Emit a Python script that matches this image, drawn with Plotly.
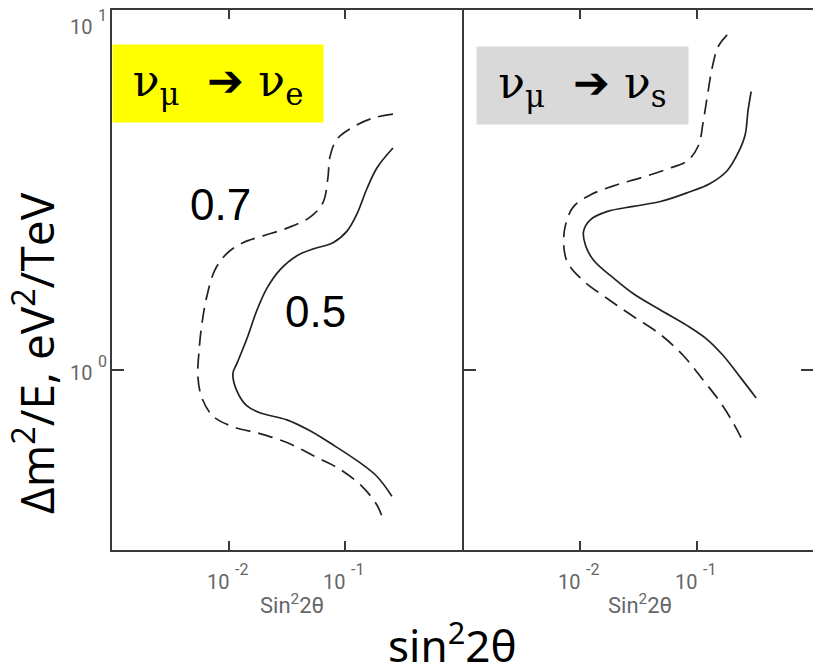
import plotly.graph_objects as go

# ---- data (sin^2 2theta, dm^2/E in eV^2/TeV) ----
left_solid_x = [0.256, 0.187, 0.153, 0.126, 0.103, 0.0783, 0.0528, 0.0385, 0.0275, 0.0213, 0.0175,
                0.01435, 0.01178, 0.01088, 0.01178, 0.01435, 0.01853, 0.0316, 0.0498, 0.0783, 0.1334,
                0.187, 0.2506]
left_solid_y = [4.14, 3.65, 3.19, 2.72, 2.43, 2.26, 2.17, 2.08, 1.90, 1.69, 1.47,
                1.225, 1.045, 0.981, 0.875, 0.796, 0.762, 0.728, 0.679, 0.621, 0.554,
                0.507, 0.447]

left_dash_x = [0.256, 0.172, 0.116, 0.0847, 0.0738, 0.0709, 0.0643, 0.0498, 0.0316, 0.0197, 0.01327,
               0.00967, 0.00763, 0.00652, 0.0059, 0.00556, 0.00545, 0.0059, 0.00733, 0.01088, 0.01853,
               0.0316, 0.0528, 0.0900, 0.1416, 0.187, 0.210]
left_dash_y = [5.14, 5.01, 4.73, 4.38, 3.91, 3.42, 2.92, 2.66, 2.48, 2.36, 2.26,
               2.11, 1.90, 1.61, 1.347, 1.121, 0.957, 0.838, 0.746, 0.697, 0.667,
               0.630, 0.580, 0.531, 0.473, 0.422, 0.386]

right_solid_x = [0.294, 0.2767, 0.2608, 0.227, 0.1828, 0.1306, 0.0830, 0.0488, 0.0286, 0.01714, 0.01225,
                 0.01066, 0.01109, 0.0130, 0.0182, 0.0286, 0.0488, 0.0830, 0.1233, 0.169, 0.2366, 0.3246]
right_solid_y = [5.94, 5.27, 4.50, 4.01, 3.58, 3.30, 3.11, 2.94, 2.85, 2.76, 2.62,
                 2.43, 2.22, 2.02, 1.83, 1.63, 1.47, 1.33, 1.217, 1.099, 0.957, 0.838]

right_dash_x = [0.1828, 0.153, 0.136, 0.1233, 0.114, 0.1033, 0.0830, 0.056, 0.0329, 0.01928, 0.01225,
                0.00877, 0.00748, 0.00720, 0.00778, 0.01066, 0.01714, 0.0286, 0.0488, 0.0767, 0.114,
                0.159, 0.206, 0.246]
right_dash_y = [8.53, 7.91, 6.92, 5.75, 4.91, 4.20, 3.81, 3.62, 3.42, 3.25, 3.07,
                2.85, 2.54, 2.22, 1.99, 1.77, 1.58, 1.41, 1.256, 1.099, 0.938,
                0.817, 0.715, 0.641]

x_tick_vals = [0.01, 0.1]
x_tick_exp = ["-2", "-1"]
y_tick_vals = [1, 10]
y_tick_exp = ["0", "1"]
contour_labels = ["0.7", "0.5"]
panel_labels = ["ν<sub>μ</sub>  ➔ ν<sub>e</sub>", "ν<sub>μ</sub>  ➔ ν<sub>s</sub>"]

W, H = 821, 670
OX, OY = 8, 8  # page body margin offset


def px(x):
    return min(1.0, max(0.0, (x - OX) / W))


def py(y):
    return min(1.0, max(0.0, 1 - (y - OY) / H))


line_col = "#222222"
frame_col = "#3a3a3a"
gray = "#666666"

fig = go.Figure()
solid = dict(color=line_col, width=1.7)
dash = dict(color=line_col, width=1.7, dash="15px,8px")
fig.add_trace(go.Scatter(x=left_solid_x, y=left_solid_y, mode="lines", line=dict(**solid, shape="spline"),
                         xaxis="x", yaxis="y", showlegend=False))
fig.add_trace(go.Scatter(x=left_dash_x, y=left_dash_y, mode="lines", line=dict(**dash, shape="spline"),
                         xaxis="x", yaxis="y", showlegend=False))
fig.add_trace(go.Scatter(x=right_solid_x, y=right_solid_y, mode="lines", line=dict(**solid, shape="spline"),
                         xaxis="x2", yaxis="y2", showlegend=False))
fig.add_trace(go.Scatter(x=right_dash_x, y=right_dash_y, mode="lines", line=dict(**dash, shape="spline"),
                         xaxis="x2", yaxis="y2", showlegend=False))

ydom = [py(550), py(6)]
xcommon = dict(type="log", range=[-3, 0], tickvals=x_tick_vals, ticks="inside", ticklen=9,
               tickwidth=1.5, tickcolor=frame_col, showticklabels=False, showline=True,
               linecolor=frame_col, linewidth=2, mirror="ticks", showgrid=False, zeroline=False)
ycommon = dict(type="log", range=[-0.5, 1], tickvals=y_tick_vals, ticks="inside", ticklen=12,
               tickwidth=1.5, tickcolor=frame_col, showticklabels=False, showline=True,
               linecolor=frame_col, linewidth=2, showgrid=False, zeroline=False, domain=ydom)

fig.update_layout(
    width=W, height=H, autosize=False,
    margin=dict(l=0, r=0, t=0, b=0),
    paper_bgcolor="white", plot_bgcolor="white",
    xaxis=dict(**xcommon, domain=[px(112), px(462)], anchor="y"),
    xaxis2=dict(**xcommon, domain=[px(464), px(813)], anchor="y2"),
    yaxis=dict(**ycommon, anchor="x", mirror=True),
    yaxis2=dict(**ycommon, anchor="x2", mirror="ticks"),
)

ann = []
basefont = dict(family="Roboto", size=20, color=gray)
expfont = dict(family="Roboto", size=16, color=gray)
for xa in ["x", "x2"]:
    for v, e in zip([-2, -1], x_tick_exp):
        ann.append(dict(x=v, xref=xa, y=py(582), yref="paper", text="10", showarrow=False,
                        font=basefont, xshift=2, xanchor="right", yanchor="middle"))
        ann.append(dict(x=v, xref=xa, y=py(569), yref="paper", text=e, showarrow=False,
                        font=expfont, xshift=4, xanchor="left", yanchor="middle"))
    ann.append(dict(x=-1.5, xref=xa, y=py(604), yref="paper",
                    text='Sin<sup>2</sup>2θ',
                    showarrow=False, font=dict(family="Roboto", size=22, color=gray),
                    xshift=5 if xa == "x" else 1, xanchor="center", yanchor="middle"))
for v, e, ys in zip([0, 1], y_tick_exp, [0, -14]):
    ann.append(dict(x=px(94), xref="paper", y=v, yref="y", text="10", showarrow=False,
                    font=basefont, xanchor="right", yanchor="middle", yshift=ys - 3))
    ann.append(dict(x=px(96), xref="paper", y=v, yref="y", text=e, showarrow=False,
                    font=expfont, xanchor="left", yanchor="middle", yshift=ys + 9))

# contour labels
ann.append(dict(x=-2.066, xref="x", y=0.46, yref="y", text=contour_labels[0], showarrow=False,
                xanchor="center", yanchor="middle",
                font=dict(family="Liberation Sans", size=44, color="black")))
ann.append(dict(x=-1.252, xref="x", y=0.1625, yref="y", text=contour_labels[1], showarrow=False,
                xanchor="center", yanchor="middle",
                font=dict(family="Liberation Sans", size=44, color="black")))

# panel labels
ann.append(dict(x=px(218), xref="paper", y=py(81.5), yref="paper", text=panel_labels[0],
                showarrow=False, bgcolor="#ffff00", width=210, height=77, borderpad=0,
                xanchor="center", yanchor="middle",
                font=dict(family="DejaVu Serif", size=44, color="black"), valign="middle"))
ann.append(dict(x=px(582.5), xref="paper", y=py(83.5), yref="paper", text=panel_labels[1],
                showarrow=False, bgcolor="#d9d9d9", width=211, height=77, borderpad=0,
                xanchor="center", yanchor="middle",
                font=dict(family="DejaVu Serif", size=44, color="black"), valign="middle"))

# axis titles
ann.append(dict(x=px(34), xref="paper", y=py(352), yref="paper",
                text="Δm<sup>2</sup>/E, eV<sup>2</sup>/TeV", xanchor="center", yanchor="middle",
                textangle=-90, showarrow=False, font=dict(family="Open Sans", size=46, color="black")))
ann.append(dict(x=px(452), xref="paper", y=py(643), yref="paper", text="sin<sup>2</sup>2θ",
                xanchor="center", yanchor="middle",
                showarrow=False, font=dict(family="Noto Sans", size=44, color="black")))

fig.update_layout(annotations=ann)
fig.write_html("out.html")
